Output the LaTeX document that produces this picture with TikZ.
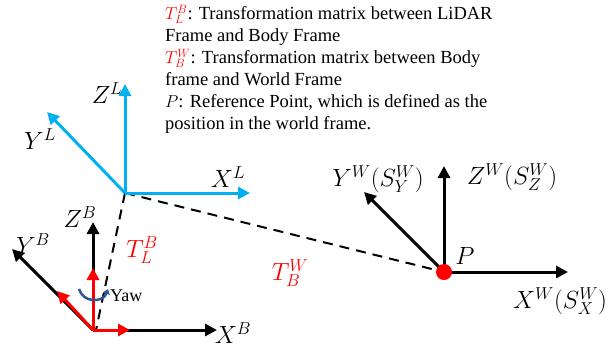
\documentclass[tikz,border=0pt]{standalone}
\usepackage{fontspec}
\setmainfont{Liberation Serif}
\usetikzlibrary{arrows.meta}
\definecolor{lidarblue}{RGB}{0,176,240}
\definecolor{yawblue}{RGB}{47,85,151}
\tikzset{
  axis/.style={line width=3pt,-{Triangle[length=12pt,width=12pt]}},
  blueaxis/.style={axis,draw=lidarblue},
  blackaxis/.style={axis,draw=black},
  redaxis/.style={axis,draw=red},
  lbl/.style={font=\fontsize{23}{25}\selectfont,inner sep=1pt},
  wlbl/.style={font=\fontsize{23}{25}\selectfont,inner sep=1pt},
  tlbl/.style={lbl,text=red},
  link/.style={line width=2pt,dash pattern=on 10pt off 7pt}
}
\begin{document}
\begin{tikzpicture}[x=1pt,y=-1pt]
\useasboundingbox (0,0) rectangle (612,349);
% text block
\node[anchor=north west,align=left,inner sep=0pt,font=\fontsize{18.5}{22}\selectfont] (txt) at (165,5)
{\textcolor{red}{$T_L^B$}: Transformation matrix between LiDAR\\
Frame and Body Frame\\
\textcolor{red}{$T_B^W$}: Transformation matrix between Body\\
frame and World Frame\\
$P$: Reference Point, which is defined as the\\
position in the world frame.};
% coordinates
\coordinate (L) at (125,193);
\coordinate (LZ) at (125,84);
\coordinate (LY) at (47,112);
\coordinate (LX) at (250,193);
\coordinate (B) at (93,330);
\coordinate (BZ) at (93,222);
\coordinate (BY) at (12,249);
\coordinate (BX) at (217,330);
\coordinate (BZr) at (93,268);
\coordinate (BYr) at (57,291);
\coordinate (BXr) at (130,330);
\coordinate (P) at (444,272);
\coordinate (PZ) at (444,166);
\coordinate (PY) at (364,192);
\coordinate (PX) at (568,272);
% dashed links
\draw[link] (L) -- (96,330);
\draw[link] (L) -- (P);
% lidar frame
\draw[blueaxis] (L) -- (LZ);
\draw[blueaxis] (L) -- (LY);
\draw[blueaxis] (L) -- (LX);
% body frame
\draw[blackaxis] (B) -- (BZ);
\draw[blackaxis] (B) -- (BY);
\draw[blackaxis] (B) -- (BX);
\draw[redaxis] (B) -- (BZr);
\draw[redaxis] (B) -- (BYr);
\draw[redaxis] (B) -- (BXr);
% yaw
\draw[yawblue,line width=2.5pt,-{Triangle[length=5pt,width=7pt]}] (79,289) .. controls (83,303) and (103,303) .. (108,289);
\node[anchor=west,font=\fontsize{18}{20}\selectfont,inner sep=0pt] (yaw) at (110,296) {Yaw};
% world frame
\draw[blackaxis] (P) -- (PZ);
\draw[blackaxis] (P) -- (PY);
\draw[blackaxis] (P) -- (PX);
\fill[red] (P) circle (8pt);
% labels
\node[lbl] (lZ) at (107,93) {$Z^L$};
\node[lbl] (lY) at (40,139) {$Y^L$};
\node[lbl] (lX) at (228,177) {$X^L$};
\node[lbl] (bZ) at (80,217) {$Z^B$};
\node[lbl] (bY) at (33,244) {$Y^B$};
\node[lbl] (bX) at (233,333) {$X^B$};
\node[tlbl] (tLB) at (142,250) {$T_L^B$};
\node[tlbl] (tBW) at (290,273) {$T_B^W$};
\node[wlbl] (wY) at (378,179) {$Y^W(S_Y^W)$};
\node[wlbl] (wZ) at (512,177) {$Z^W(S_Z^W)$};
\node[wlbl] (wX) at (560,301) {$X^W(S_X^W)$};
\node[lbl] (pl) at (465,256) {$P$};
\end{tikzpicture}
\end{document}
